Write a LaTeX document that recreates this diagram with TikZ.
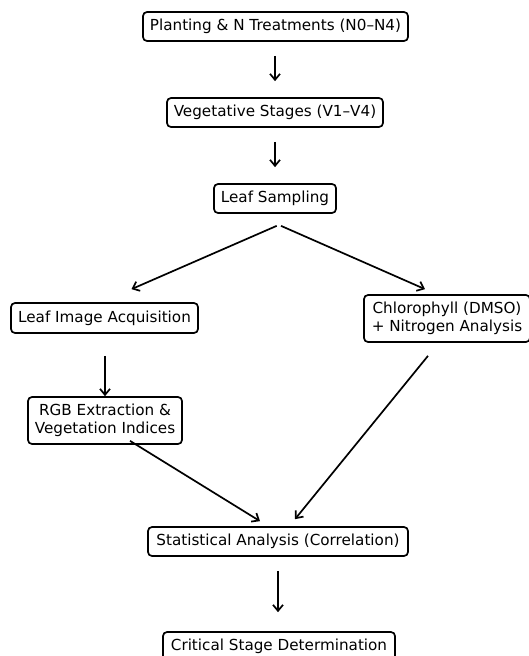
\documentclass[tikz,border=0pt]{standalone}
\usepackage{fontspec}
\setmainfont{DejaVu Sans}
\usetikzlibrary{arrows.meta,calc}
\begin{document}
\begin{tikzpicture}[x=1pt,y=-1pt,
  box/.style={draw=black,line width=1.7pt,rounded corners=4pt,fill=white,align=center,
    font=\fontsize{15.2}{18.5}\selectfont,inner xsep=2pt,inner ysep=0pt,minimum height=29pt},
  arr/.style={line width=1.7pt,-{Straight Barb[length=6pt,width=10pt,line width=1.7pt]}}]
\useasboundingbox[fill=white] (0,0) rectangle (528,656);
\node[box,minimum width=265pt] (p) at (275.5,26.5) {Planting \& N Treatments (N0–N4)};
\node[box,minimum width=216pt] (v) at (275,112.5) {Vegetative Stages (V1–V4)};
\node[box,minimum width=122pt] (ls) at (275,198.5) {Leaf Sampling};
\node[box,minimum width=187pt,minimum height=30pt] (lia) at (104.5,318) {Leaf Image Acquisition};
\node[box,minimum width=166pt,minimum height=47pt] (chl) at (447,318.5) {Chlorophyll (DMSO)\\+ Nitrogen Analysis};
\node[box,minimum width=154pt,minimum height=47pt] (rgb) at (105,420.5) {RGB Extraction \&\\Vegetation Indices};
\node[box,minimum width=260pt] (sa) at (278,541.5) {Statistical Analysis (Correlation)};
\node[box,minimum width=232pt] (cs) at (279,646.5) {Critical Stage Determination};
\draw[arr] ($(p.south)+(-0.5,14)$) -- ($(v.north)+(0,-16)$);
\draw[arr] ($(v.south)+(0,14)$) -- ($(ls.north)+(0,-16)$);
\draw[arr] ($(ls.south)+(1.7,12)$) -- ($(lia.north)+(27,-13)$);
\draw[arr] ($(ls.south)+(6,12)$) -- ($(chl.north)+(-22,-5)$);
\draw[arr] ($(lia.south)+(0.5,22)$) -- (rgb.north);
\draw[arr] ($(rgb.south)+(25,-4)$) -- ($(sa.north)+(-18,-5)$);
\draw[arr] ($(chl.south)+(-19,13)$) -- ($(sa.north)+(17,-7)$);
\draw[arr] ($(sa.south)+(0,14)$) -- ($(cs.north)+(-1,-19)$);
\end{tikzpicture}
\end{document}
